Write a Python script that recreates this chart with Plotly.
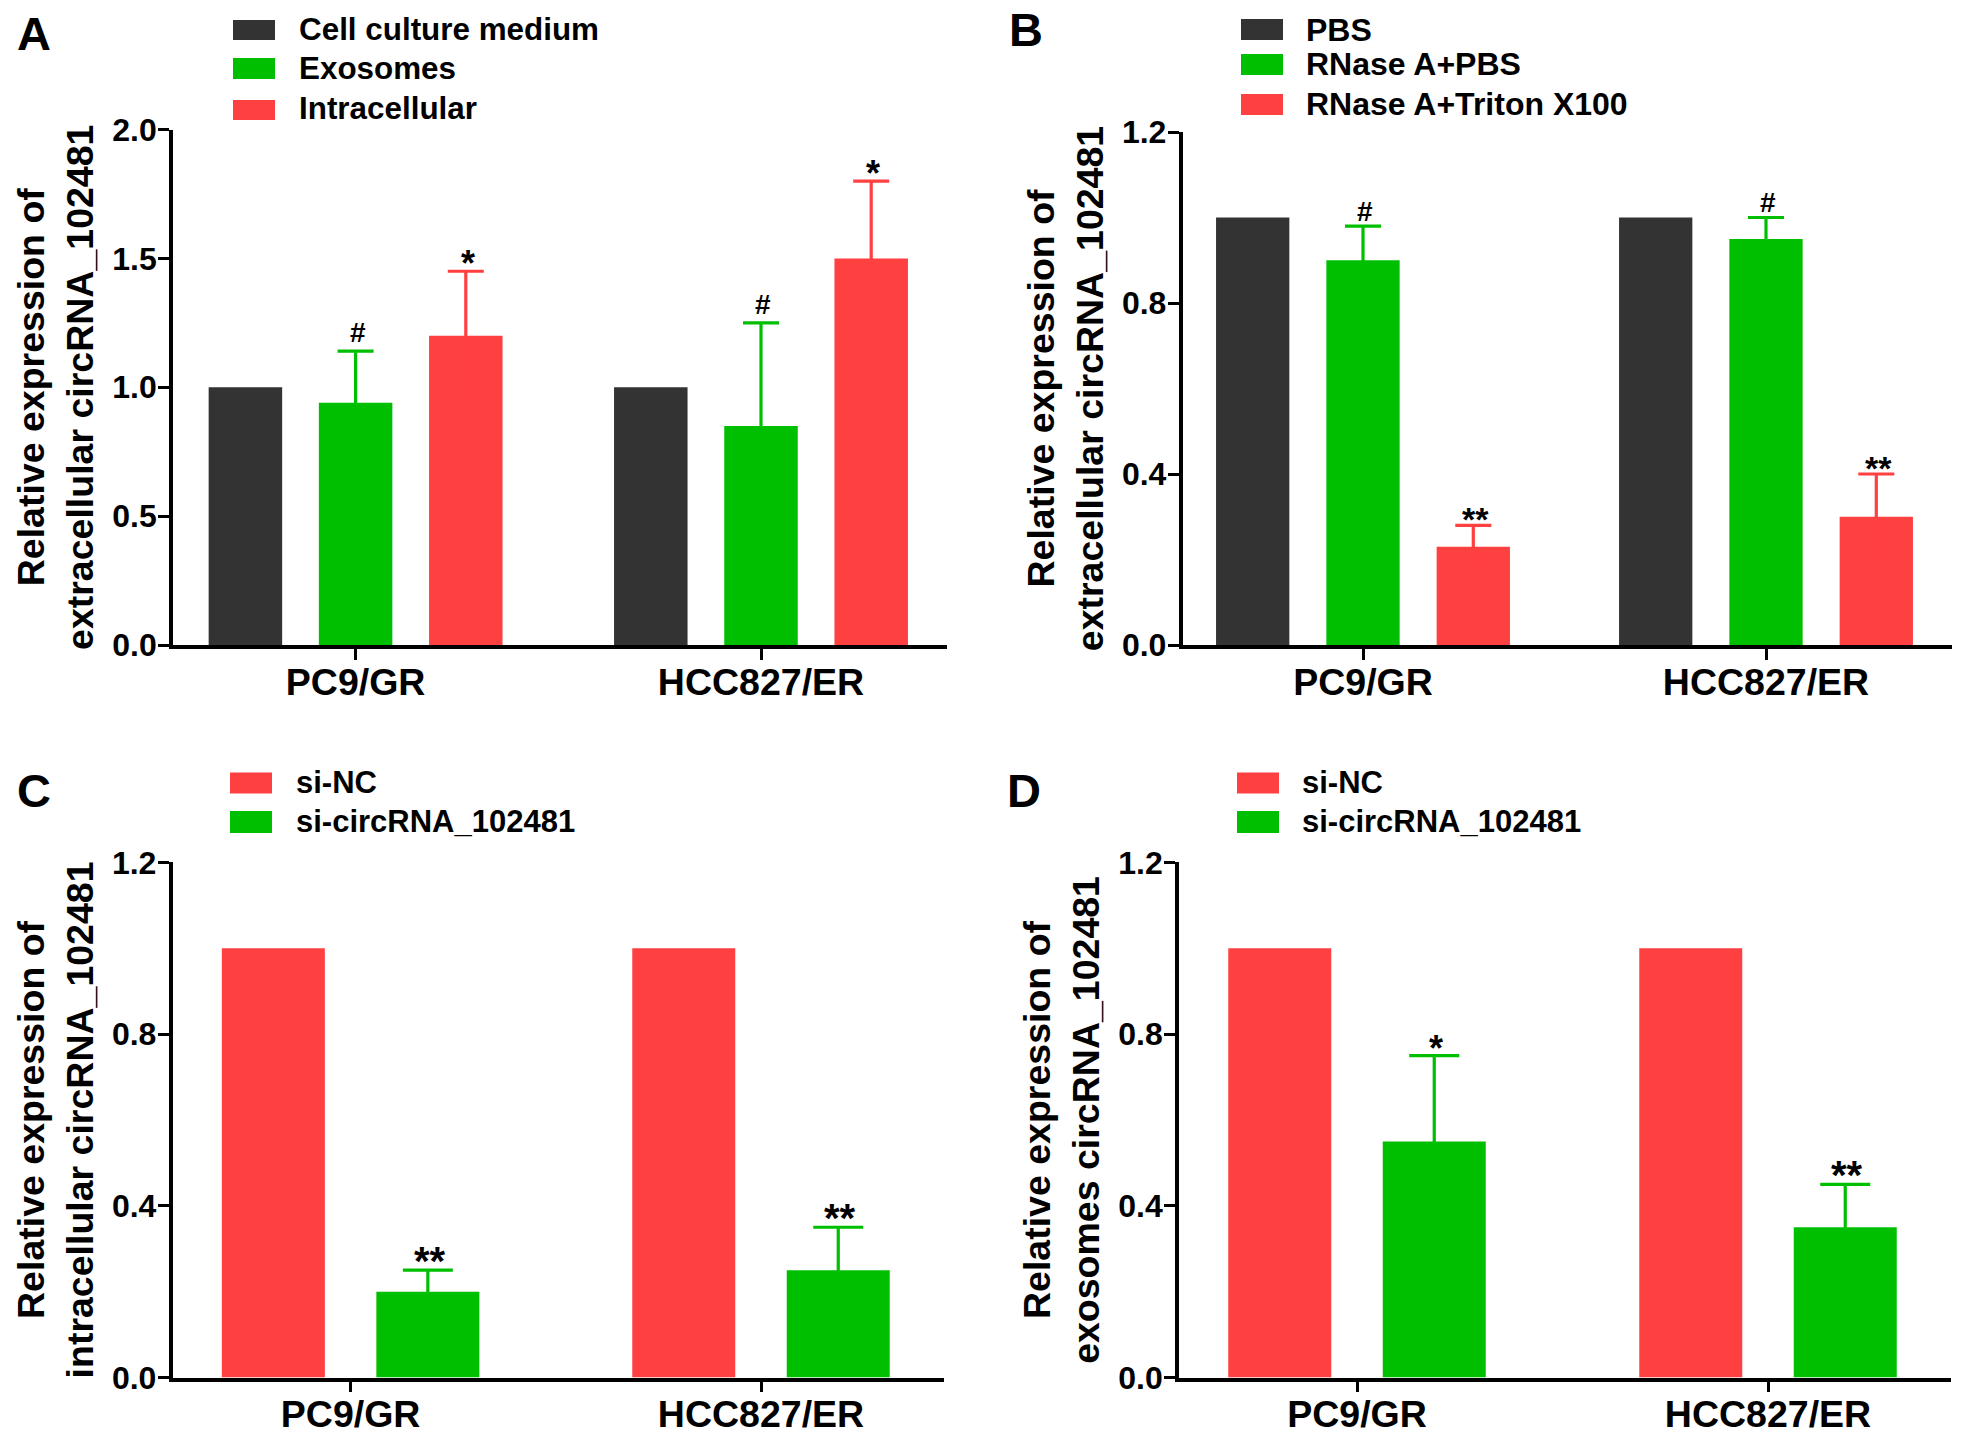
import plotly.graph_objects as go

W, H = 1965, 1438
FONT = "Liberation Sans"
DARK, GREEN, RED = "#333333", "#00BF00", "#FF4040"

groups = ["PC9/GR", "HCC827/ER"]

a_names = ["Cell culture medium", "Exosomes", "Intracellular"]
a_values = [[1.0, 1.0], [0.94, 0.85], [1.2, 1.5]]
a_tops = [[None, None], [1.14, 1.25], [1.45, 1.8]]
a_marks = [["", ""], ["#", "#"], ["*", "*"]]
a_ticks = [0.0, 0.5, 1.0, 1.5, 2.0]

b_names = ["PBS", "RNase A+PBS", "RNase A+Triton X100"]
b_values = [[1.0, 1.0], [0.9, 0.95], [0.23, 0.3]]
b_tops = [[None, None], [0.98, 1.0], [0.28, 0.4]]
b_marks = [["", ""], ["#", "#"], ["**", "**"]]

cd_names = ["si-NC", "si-circRNA_102481"]
c_values = [[1.0, 1.0], [0.2, 0.25]]
c_tops = [[None, None], [0.25, 0.35]]
c_marks = [["", ""], ["**", "**"]]
d_values = [[1.0, 1.0], [0.55, 0.35]]
d_tops = [[None, None], [0.75, 0.45]]
d_marks = [["", ""], ["*", "**"]]
ticks_12 = [0.0, 0.4, 0.8, 1.2]

panels = [
    dict(letter="A", letter_xy=(15, 34), names=a_names, values=a_values, tops=a_tops, marks=a_marks,
         colors=[DARK, GREEN, RED], ymax=2.0, ticks=a_ticks,
         title="Relative expression of<br>extracellular circRNA_102481",
         left=173, right=947, top=129.5, bottom=645, c0=355.6, c1=761, pitch=110.2, barw=73.5, cap=18,
         star=36, hash_shift=1, lfont=31.4,
         sw_x=233, txt_x=297, sw_y=[(20, 40), (58, 79), (100, 120)], txt_y=[30, 68, 109]),
    dict(letter="B", letter_xy=(1007, 30), names=b_names, values=b_values, tops=b_tops, marks=b_marks,
         colors=[DARK, GREEN, RED], ymax=1.2, ticks=ticks_12,
         title="Relative expression of<br>extracellular circRNA_102481",
         left=1182.6, right=1952, top=132, bottom=645, c0=1363, c1=1766, pitch=110.3, barw=73.3, cap=18,
         star=34, hash_shift=-3, lfont=32,
         sw_x=1241, txt_x=1304, sw_y=[(19, 40), (54, 75), (94, 115)], txt_y=[30, 64, 104]),
    dict(letter="C", letter_xy=(15, 790), names=cd_names, values=c_values, tops=c_tops, marks=c_marks,
         colors=[RED, GREEN], ymax=1.2, ticks=ticks_12,
         title="Relative expression of<br>intracellular circRNA_102481",
         left=172.6, right=944, top=862.4, bottom=1377.5, c0=350.6, c1=761, pitch=154.5, barw=103, cap=25,
         star=40, hash_shift=0, lfont=31,
         sw_x=230, txt_x=294, sw_y=[(772.5, 793.5), (811, 833)], txt_y=[782, 821]),
    dict(letter="D", letter_xy=(1005, 790), names=cd_names, values=d_values, tops=d_tops, marks=d_marks,
         colors=[RED, GREEN], ymax=1.2, ticks=ticks_12,
         title="Relative expression of<br>exosomes circRNA_102481",
         left=1179, right=1950.6, top=862.4, bottom=1377.5, c0=1357, c1=1768, pitch=154.5, barw=103, cap=25,
         star=40, hash_shift=0, lfont=31,
         sw_x=1237, txt_x=1300, sw_y=[(772.5, 793.5), (811, 833)], txt_y=[782, 821]),
]

fig = go.Figure()
shapes, annotations = [], []
layout = {}
for i, p in enumerate(panels, start=1):
    sfx = "" if i == 1 else str(i)
    unit = p["c1"] - p["c0"]
    n = len(p["names"])
    for k, (name, vals, tops, marks, col) in enumerate(zip(p["names"], p["values"], p["tops"], p["marks"], p["colors"])):
        xs = [g + (k - (n - 1) / 2) * p["pitch"] / unit for g in range(2)]
        has_err = tops[0] is not None
        err = dict(visible=False)
        if has_err:
            err = dict(type="data", symmetric=True, array=[t - v for t, v in zip(tops, vals)], color=col,
                       thickness=3.2, width=p["cap"])
        fig.add_trace(go.Bar(
            x=xs, y=vals, width=p["barw"] / unit, name=name, marker=dict(color=col, line=dict(width=0)),
            error_y=err, xaxis="x" + sfx, yaxis="y" + sfx, showlegend=False))
        for x, m, t in zip(xs, marks, tops):
            if m:
                is_star = "*" in m
                size = (36 if m == "*" else p["star"]) if is_star else 28
                annotations.append(dict(
                    x=x, y=t, xref="x" + sfx, yref="y" + sfx, text=m, showarrow=False, yanchor="bottom",
                    xshift=2, yshift=-15 if is_star else p["hash_shift"],
                    font=dict(family=FONT, size=size, color="black", weight="bold")))
    layout["xaxis" + sfx] = dict(
        domain=[p["left"] / W, p["right"] / W], anchor="y" + sfx, automargin=False,
        range=[(p["left"] - p["c0"]) / unit, (p["right"] - p["c0"]) / unit],
        tickmode="array", tickvals=[0, 1], ticktext=groups, ticks="outside", ticklen=11, tickwidth=3.2,
        ticklabelstandoff=-10,
        tickcolor="black", showline=True, linecolor="black", linewidth=3.6, showgrid=False, zeroline=False,
        tickfont=dict(family=FONT, size=37.5, color="black", weight="bold"))
    layout["yaxis" + sfx] = dict(
        domain=[1 - p["bottom"] / H, 1 - p["top"] / H], anchor="x" + sfx, range=[0, p["ymax"]], automargin=False,
        tickmode="array", tickvals=p["ticks"], ticktext=[f"{t:.1f}" for t in p["ticks"]],
        ticks="outside", ticklen=11, tickwidth=3.2, tickcolor="black", showline=True, linecolor="black",
        linewidth=3.6, showgrid=False, zeroline=False, ticklabelstandoff=-5,
        tickfont=dict(family=FONT, size=32, color="black", weight="bold"),
        title=dict(text=p["title"], standoff=8, font=dict(family=FONT, size=37.5, color="black", weight="bold")))
    annotations.append(dict(
        x=p["letter_xy"][0] / W, y=1 - p["letter_xy"][1] / H, xref="paper", yref="paper", xanchor="left", yanchor="middle",
        text=p["letter"], showarrow=False, font=dict(family=FONT, size=47, color="black", weight="bold")))
    for name, col, (y0, y1), ty in zip(p["names"], p["colors"], p["sw_y"], p["txt_y"]):
        shapes.append(dict(type="rect", xref="paper", yref="paper", x0=p["sw_x"] / W, x1=(p["sw_x"] + 42) / W,
                           y0=1 - y1 / H, y1=1 - y0 / H, fillcolor=col, line=dict(width=0)))
        annotations.append(dict(
            x=p["txt_x"] / W, y=1 - ty / H, xref="paper", yref="paper", xanchor="left", yanchor="middle",
            text=name, showarrow=False, font=dict(family=FONT, size=p["lfont"], color="black", weight="bold")))

fig.update_layout(width=W, height=H, margin=dict(l=0, r=0, t=0, b=0), plot_bgcolor="white", paper_bgcolor="white",
                  barmode="overlay", shapes=shapes, annotations=annotations, **layout)
fig.write_html("out.html", config={"displayModeBar": False},
               post_script="document.body.style.margin='0';document.body.style.overflow='hidden';")
